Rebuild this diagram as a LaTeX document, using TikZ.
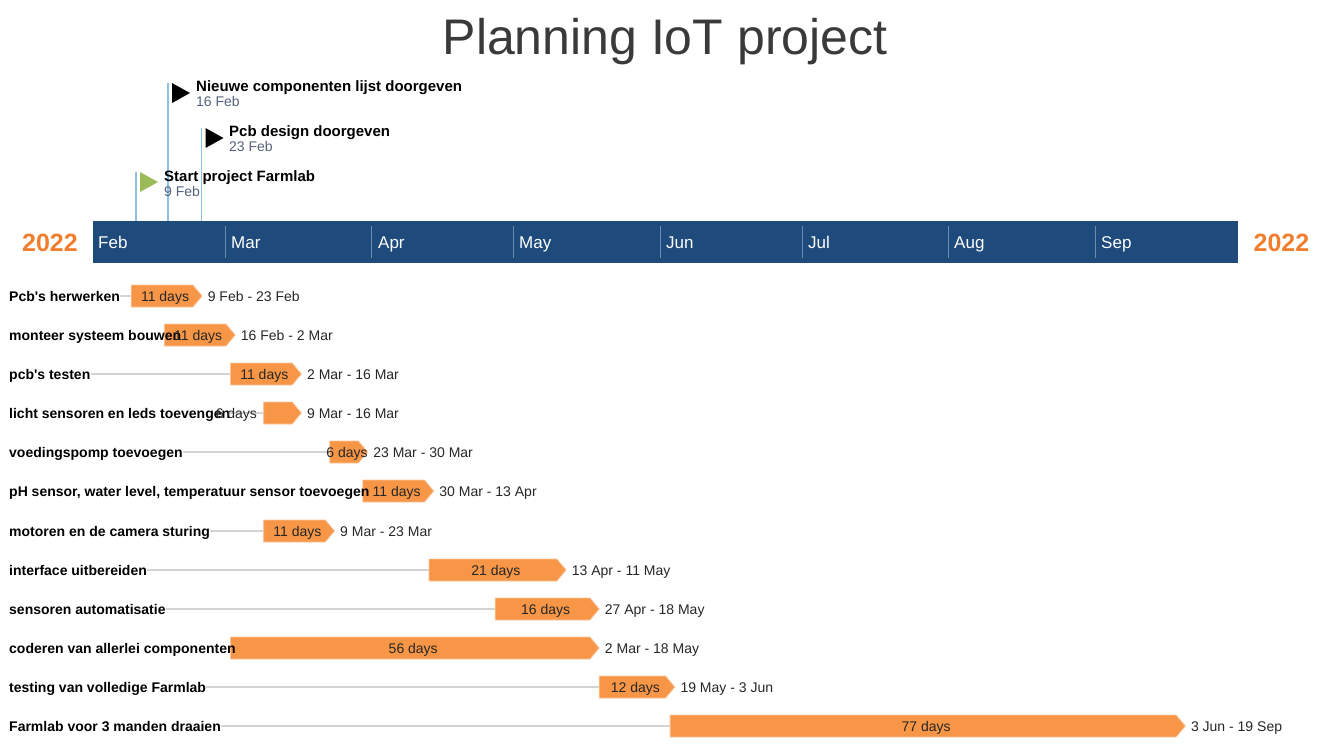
\documentclass[tikz,border=0pt]{standalone}
\usepackage{fontspec}
\setmainfont{Liberation Sans}
\usetikzlibrary{shapes.symbols, positioning, backgrounds}
\definecolor{BandBlue}{HTML}{1F4A7C}
\definecolor{SepBlue}{HTML}{6D8BB0}
\definecolor{BarOrange}{HTML}{F79646}
\definecolor{BarEdge}{HTML}{FAC59C}
\definecolor{YearOrange}{HTML}{EF7F2F}
\definecolor{PoleBlue}{HTML}{8DC0E4}
\definecolor{LeaderGray}{HTML}{D4D4D4}
\definecolor{TitleGray}{HTML}{3A3A3A}
\definecolor{DateSlate}{HTML}{55627A}
\definecolor{FlagGreen}{HTML}{9BBB59}
\definecolor{InkGray}{HTML}{262626}

\begin{document}
\begin{tikzpicture}[x=1pt, y=-1pt,
  task/.style={anchor=west, inner sep=0pt, text height=10pt, text depth=0pt,
    font=\fontsize{14}{16}\selectfont\bfseries},
  bar/.style={signal, signal to=east, signal pointer angle=100, fill=BarOrange,
    draw=BarEdge, line width=0.8pt, minimum height=22pt, inner sep=0pt, anchor=west},
  barlbl/.style={inner sep=0pt, text height=10pt, text depth=0pt, text=InkGray,
    font=\fontsize{14}{16}\selectfont},
  dates/.style={inner sep=0pt, text height=10pt, text depth=0pt, text=InkGray,
    font=\fontsize{14}{16}\selectfont},
  leader/.style={draw=LeaderGray, line width=1.5pt},
  month/.style={anchor=base west, inner sep=0pt, text=white,
    font=\fontsize{17}{19}\selectfont},
  monthsep/.style={draw=SepBlue, line width=1pt},
  year/.style={inner sep=0pt, text height=18pt, text depth=0pt, text=YearOrange,
    font=\fontsize{25}{28}\selectfont\bfseries},
  pole/.style={draw=PoleBlue, line width=1.5pt},
  mstitle/.style={anchor=base west, inner sep=0pt, font=\fontsize{15}{17}\selectfont\bfseries},
  msdate/.style={anchor=base west, inner sep=0pt, text=DateSlate,
    font=\fontsize{14}{16}\selectfont},
  node distance=5pt
]
\useasboundingbox (0,0) rectangle (1325,745);

%% Title
\node[anchor=base, inner sep=0pt, text=TitleGray, font=\fontsize{50}{56}\selectfont]
  (title) at (665,54) {Planning IoT project};

%% Time band + years
\node[anchor=north west, fill=BandBlue, minimum width=1145pt, minimum height=42pt,
  inner sep=0pt] (band) at (93,221) {};
\node[year, left=15pt of band]  (yearL) {2022};
\node[year, right=15pt of band] (yearR) {2022};

%% Month ticks and labels
\draw[monthsep] (225.4,226) -- (225.4,258);
\draw[monthsep] (371.9,226) -- (371.9,258);
\draw[monthsep] (513.7,226) -- (513.7,258);
\draw[monthsep] (660.2,226) -- (660.2,258);
\draw[monthsep] (802.1,226) -- (802.1,258);
\draw[monthsep] (948.6,226) -- (948.6,258);
\draw[monthsep] (1095.1,226) -- (1095.1,258);
\node[month] (feb) at (98,248.5)   {Feb};
\node[month] (mar) at (231,248.5)  {Mar};
\node[month] (apr) at (378,248.5)  {Apr};
\node[month] (may) at (519,248.5)  {May};
\node[month] (jun) at (666,248.5)  {Jun};
\node[month] (jul) at (808,248.5)  {Jul};
\node[month] (aug) at (954,248.5)  {Aug};
\node[month] (sep) at (1101,248.5) {Sep};

%% Milestones
\coordinate (ms1) at (136,172);
\coordinate (ms2) at (168,83);
\coordinate (ms3) at (201.5,128);
\draw[pole] (ms1) -- (ms1 |- band.north);
\draw[pole] (ms2) -- (ms2 |- band.north);
\draw[pole] (ms3) -- (ms3 |- band.north);
\fill[FlagGreen] ([xshift=4pt]ms1) -- ++(18,10) -- ++(-18,10) -- cycle;
\fill[black] ([xshift=4pt]ms2) -- ++(18,10) -- ++(-18,10) -- cycle;
\fill[black] ([xshift=4pt]ms3) -- ++(18,10) -- ++(-18,10) -- cycle;
\node[mstitle] (ms1t) at (164,181)   {Start project Farmlab};
\node[msdate]  (ms1d) at (164,196)   {9 Feb};
\node[mstitle] (ms2t) at (196,91.5)  {Nieuwe componenten lijst doorgeven};
\node[msdate]  (ms2d) at (196,106.5) {16 Feb};
\node[mstitle] (ms3t) at (229,136.5) {Pcb design doorgeven};
\node[msdate]  (ms3d) at (229,151.5) {23 Feb};

%% Task bars
\node[bar, minimum width=70.9pt]  (b1)  at (130.8,296) {};
\node[bar, minimum width=70.9pt]  (b2)  at (163.9,335) {};
\node[bar, minimum width=70.9pt]  (b3)  at (230.1,374) {};
\node[bar, minimum width=37.8pt]  (b4)  at (263.2,413) {};
\node[bar, minimum width=37.8pt]  (b5)  at (329.4,452) {};
\node[bar, minimum width=70.9pt]  (b6)  at (362.4,491) {};
\node[bar, minimum width=70.9pt]  (b7)  at (263.2,531) {};
\node[bar, minimum width=137.1pt] (b8)  at (428.6,570) {};
\node[bar, minimum width=104.0pt] (b9)  at (494.8,609) {};
\node[bar, minimum width=368.7pt] (b10) at (230.1,648) {};
\node[bar, minimum width=75.6pt]  (b11) at (598.8,687) {};
\node[bar, minimum width=515.2pt] (b12) at (669.7,726) {};

%% Task names
\node[task] (n1)  at (9,296) {Pcb\textquotesingle s herwerken};
\node[task] (n2)  at (9,335) {monteer systeem bouwen};
\node[task] (n3)  at (9,374) {pcb\textquotesingle s testen};
\node[task] (n4)  at (9,413) {licht sensoren en leds toevengen};
\node[task] (n5)  at (9,452) {voedingspomp toevoegen};
\node[task] (n6)  at (9,491) {pH sensor, water level, temperatuur sensor toevoegen};
\node[task] (n7)  at (9,531) {motoren en de camera sturing};
\node[task] (n8)  at (9,570) {interface uitbereiden};
\node[task] (n9)  at (9,609) {sensoren automatisatie};
\node[task] (n10) at (9,648) {coderen van allerlei componenten};
\node[task] (n11) at (9,687) {testing van volledige Farmlab};
\node[task] (n12) at (9,726) {Farmlab voor 3 manden draaien};

%% Durations
\node[barlbl] (l1)  at ([xshift=3pt]b1.center)  {11 days};
\node[barlbl] (l2)  at ([xshift=3pt]b2.center)  {11 days};
\node[barlbl] (l3)  at ([xshift=3pt]b3.center)  {11 days};
\node[barlbl, left=6pt of b4] (l4) {6 days};
\node[barlbl] (l5)  at ([xshift=3pt]b5.center)  {6 days};
\node[barlbl] (l6)  at ([xshift=3pt]b6.center)  {11 days};
\node[barlbl] (l7)  at ([xshift=3pt]b7.center)  {11 days};
\node[barlbl] (l8)  at ([xshift=3pt]b8.center)  {21 days};
\node[barlbl] (l9)  at ([xshift=3pt]b9.center)  {16 days};
\node[barlbl] (l10) at ([xshift=3pt]b10.center) {56 days};
\node[barlbl] (l11) at ([xshift=3pt]b11.center) {12 days};
\node[barlbl] (l12) at ([xshift=3pt]b12.center) {77 days};

%% Date ranges
\node[dates, right=of b1]  (d1)  {9 Feb - 23 Feb};
\node[dates, right=of b2]  (d2)  {16 Feb - 2 Mar};
\node[dates, right=of b3]  (d3)  {2 Mar - 16 Mar};
\node[dates, right=of b4]  (d4)  {9 Mar - 16 Mar};
\node[dates, right=of b5]  (d5)  {23 Mar - 30 Mar};
\node[dates, right=of b6]  (d6)  {30 Mar - 13 Apr};
\node[dates, right=of b7]  (d7)  {9 Mar - 23 Mar};
\node[dates, right=of b8]  (d8)  {13 Apr - 11 May};
\node[dates, right=of b9]  (d9)  {27 Apr - 18 May};
\node[dates, right=of b10] (d10) {2 Mar - 18 May};
\node[dates, right=of b11] (d11) {19 May - 3 Jun};
\node[dates, right=of b12] (d12) {3 Jun - 19 Sep};

%% Leaders behind everything
\begin{scope}[on background layer]
\draw[leader] (n1) -- (b1);
\draw[leader] (n2) -- (b2);
\draw[leader] (n3) -- (b3);
\draw[leader] (n4) -- (b4);
\draw[leader] (n5) -- (b5);
\draw[leader] (n6) -- (b6);
\draw[leader] (n7) -- (b7);
\draw[leader] (n8) -- (b8);
\draw[leader] (n9) -- (b9);
\draw[leader] (n10) -- (b10);
\draw[leader] (n11) -- (b11);
\draw[leader] (n12) -- (b12);
\end{scope}

\end{tikzpicture}
\end{document}
